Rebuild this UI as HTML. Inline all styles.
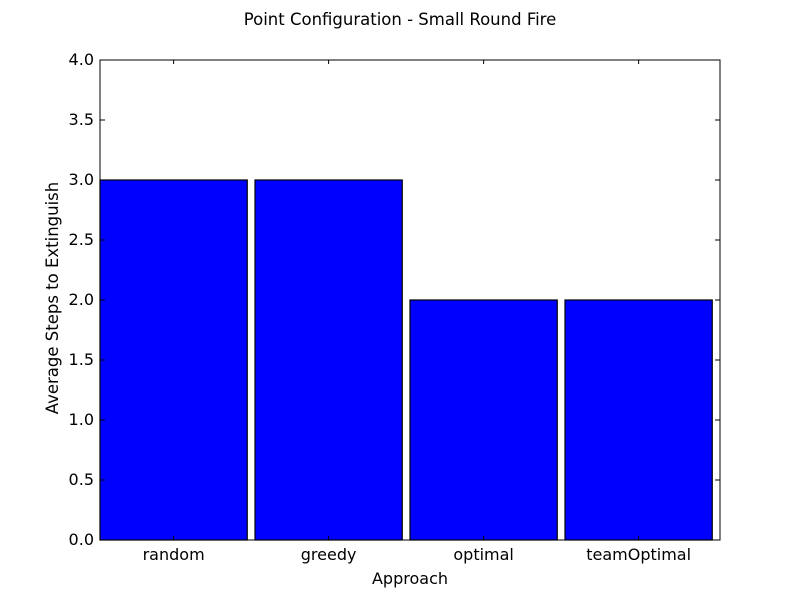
<!DOCTYPE html>
<html><head><meta charset="utf-8"><style>
body{margin:0;background:#fff;}
svg text{font-family:"DejaVu Sans","Liberation Sans",sans-serif;}
</style></head><body>
<svg id="chart" width="800" height="600" xmlns="http://www.w3.org/2000/svg">
<rect width="800" height="600" fill="#fff"/>
<text x="400" y="25" text-anchor="middle" font-size="16.5">Point Configuration - Small Round Fire</text>
<g id="bars"></g>
<g id="axes"></g>
<text x="410" y="584" text-anchor="middle" font-size="16">Approach</text>
<text transform="translate(58,298) rotate(-90)" text-anchor="middle" font-size="16.5">Average Steps to Extinguish</text>
</svg>
<script>
const categories = ["random","greedy","optimal","teamOptimal"];
const values = [3, 3, 2, 2];
const yTicks = [0,0.5,1,1.5,2,2.5,3,3.5,4];
const yTickLabels = ["0.0","0.5","1.0","1.5","2.0","2.5","3.0","3.5","4.0"];

const L=100,R=720,T=60,B=540,yMax=4;
const slot=(R-L)/categories.length;
const y=v=>B-(v/yMax)*(B-T);
const x=i=>L+i*slot;
const NS="http://www.w3.org/2000/svg";
const bars=document.getElementById('bars'), axes=document.getElementById('axes');
function mk(tag,attrs,parent){const e=document.createElementNS(NS,tag);for(const k in attrs)e.setAttribute(k,attrs[k]);parent.appendChild(e);return e;}
categories.forEach((c,i)=>{
  const r=mk('rect',{x:x(i),y:y(values[i]),width:slot*0.95,height:B-y(values[i]),fill:'#0000ff',stroke:'#000','stroke-width':1.2},bars);
  
  
  const cx=x(i)+slot*0.95/2;
  const t=mk('text',{x:cx,y:B+20,'text-anchor':'middle','font-size':16},axes);
  t.textContent=c;
  
  
  mk('line',{x1:cx,x2:cx,y1:B,y2:B-4,stroke:'#000'},axes);
  mk('line',{x1:cx,x2:cx,y1:T,y2:T+4,stroke:'#000'},axes);
});
yTicks.forEach((v,i)=>{
  const yy=y(v);
  mk('line',{x1:L,x2:L+5,y1:yy,y2:yy,stroke:'#000'},axes);
  mk('line',{x1:R,x2:R-5,y1:yy,y2:yy,stroke:'#000'},axes);
  const t=mk('text',{x:L-6,y:yy+5,'text-anchor':'end','font-size':16},axes);
  t.textContent=yTickLabels[i];
  
  
});
const f=mk('rect',{x:L,y:T,width:R-L,height:B-T,fill:'none',stroke:'#000','stroke-width':1},axes);


</script>
</body></html>
